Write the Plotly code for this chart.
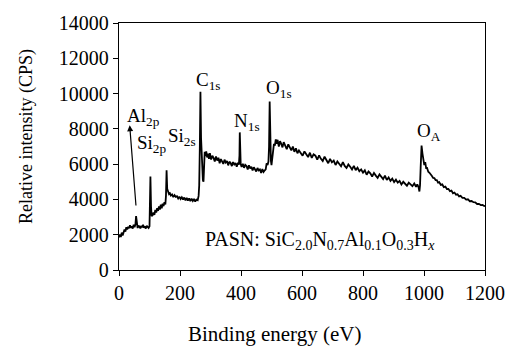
import plotly.graph_objects as go

# ---- Spectrum data: binding energy (eV) / intensity (CPS), by region ----
energy_low = [0, 3, 6, 9, 12, 15, 18, 21, 24, 27, 30, 33, 36, 39, 42, 45, 48, 51, 54, 56, 58, 61, 64,
              67, 70, 73, 76, 79, 82, 85, 88, 91, 94, 97, 100]
counts_low = [1850, 2010, 1870, 2120, 1960, 2230, 2290, 2180, 2420, 2300, 2450, 2360, 2530, 2400, 2480,
              2350, 2560, 2430, 2600, 3050, 2540, 2380, 2520, 2450, 2360, 2510, 2420, 2560, 2400, 2470,
              2350, 2500, 2440, 2380, 2480]

energy_si = [101, 103, 105, 107, 110, 113, 116, 119, 122, 125, 128, 131, 134, 137, 140, 143, 146, 149,
             152, 154, 156, 158, 161, 164, 167, 170, 174, 178, 182, 186, 190, 194, 198, 202, 206, 210,
             214, 218, 222, 226, 230, 234, 238, 242, 246, 250, 254, 258, 261]
counts_si = [3500, 5300, 3600, 3050, 3100, 3250, 3120, 3400, 3260, 3500, 3350, 3600, 3430, 3700, 3500,
             3760, 3620, 3850, 3720, 4200, 5650, 4600, 4450, 4300, 4350, 4220, 4280, 4130, 4240, 4150,
             4180, 4050, 4160, 4020, 4120, 3990, 4110, 3950, 4080, 3940, 4060, 3900, 4050, 3920, 4030,
             3880, 3990, 3960, 4200]

energy_c = [263, 265, 267, 269, 271, 273, 275, 277, 279, 281, 283, 286, 289, 292, 295, 298, 302, 306,
            310, 314, 318, 322, 326, 330, 334, 338, 342, 346, 350, 354, 358, 362, 366, 370, 374, 378,
            382, 386, 390, 393]
counts_c = [4800, 7000, 10100, 7500, 6200, 5800, 5100, 5000, 5800, 6700, 6450, 6720, 6380, 6590, 6300,
            6620, 6260, 6480, 6350, 6150, 6440, 6200, 6360, 6050, 6290, 6180, 6010, 6250, 6090, 6180,
            5930, 6140, 6060, 5890, 6120, 5980, 6060, 5850, 6080, 5970]

energy_n = [395, 396, 397, 399, 402, 406, 410, 414, 418, 422, 426, 430, 434, 438, 442, 446, 450, 454,
            458, 462, 466, 470, 474, 478]
counts_n = [6500, 7800, 6600, 6000, 5840, 6020, 5790, 5960, 5900, 5700, 5930, 5760, 5850, 5640, 5820,
            5720, 5580, 5780, 5650, 5700, 5500, 5720, 5560, 5650]

energy_o = [481, 484, 487, 490, 492, 494, 496, 498, 500, 502, 505, 508, 511, 514, 517, 520, 524, 528,
            532, 536, 540, 545, 550, 555, 560, 565, 570, 575, 580, 585, 590, 596, 602, 608, 614, 620,
            626, 632, 638, 644, 650, 656, 662, 668, 674, 680, 686, 692, 698, 704, 710, 716, 722, 728,
            734, 740, 746, 752, 758, 764, 770, 776, 782, 788, 794, 800, 806, 812, 818, 824, 830, 836,
            842, 848, 854, 860, 866, 872, 878, 884, 890, 896, 902, 908, 914, 920, 926, 932, 938, 944,
            950, 956, 962, 968, 974, 978]
counts_o = [5700, 6050, 5950, 6150, 7000, 9550, 7500, 6200, 5950, 6300, 6900, 7150,
            7050, 7400, 7150, 7380, 7000, 7300, 7150, 6950, 7250, 7050,
            6850, 7120, 6900, 6780, 7000, 6700, 6900, 6620, 6780, 6650,
            6480, 6720, 6520, 6400, 6650, 6350, 6560, 6480, 6250, 6500,
            6300, 6180, 6420, 6220, 6050, 6300, 6100, 6200, 5950, 6150,
            6020, 5880, 6120, 5900, 5780, 5980, 5850, 5700, 5900, 5660,
            5800, 5600, 5700, 5520, 5650, 5400, 5580, 5480, 5300, 5500,
            5350, 5220, 5420, 5250, 5150, 5350, 5100, 5250, 5050, 5180,
            4980, 5120, 4950, 5050, 4850, 5000, 4900, 4780, 4950, 4820,
            4750, 4900, 4720, 4850]

energy_high = [982, 985, 987, 989, 992, 995, 998, 1001, 1004, 1007, 1010, 1014, 1018, 1022, 1026, 1030,
               1034, 1038, 1042, 1046, 1050, 1055, 1060, 1065, 1070, 1075, 1080, 1085, 1090, 1095, 1100,
               1105, 1110, 1115, 1120, 1126, 1132, 1138, 1144, 1150, 1156, 1162, 1168, 1174, 1180, 1186,
               1192, 1197, 1200]
counts_high = [4700, 4450, 4800, 5800, 7050, 6600, 6200,
               5950, 6120, 5780, 5780, 5570, 5510, 5380, 5330, 5220, 5210, 5090, 5090, 4950, 4980,
               4820, 4850, 4700, 4730, 4590, 4600, 4470, 4500, 4350, 4390, 4270, 4290, 4170, 4200,
               4090, 4090, 3990, 4010, 3900, 3910, 3840, 3830, 3740, 3750, 3680, 3690, 3630, 3620]

segments = [(energy_low, counts_low), (energy_si, counts_si), (energy_c, counts_c),
            (energy_n, counts_n), (energy_o, counts_o), (energy_high, counts_high)]
energy, intensity = [], []
for e, c in segments:
    assert len(e) == len(c), (len(e), len(c))
    energy += e
    intensity += c

# ---- Peak labels ----
peak_labels = ["Al<sub>2p</sub>", "Si<sub>2p</sub>", "Si<sub>2s</sub>", "C<sub>1s</sub>",
               "N<sub>1s</sub>", "O<sub>1s</sub>", "O<sub>A</sub>"]
label_x = [19, 51, 153, 247, 372, 474, 971]
label_y = [8650, 7150, 7530, 10700, 8370, 10250, 7810]

x_ticks = [0, 200, 400, 600, 800, 1000, 1200]
y_ticks = [0, 2000, 4000, 6000, 8000, 10000, 12000, 14000]

FONT = "Liberation Serif"

fig = go.Figure()
fig.add_trace(go.Scatter(x=energy, y=intensity, mode="lines",
                         line=dict(color="black", width=1.8), showlegend=False,
                         hoverinfo="skip"))

for t, lx, ly in zip(peak_labels, label_x, label_y):
    fig.add_annotation(x=lx, y=ly, text=t, showarrow=False, xanchor="left", yanchor="middle",
                       font=dict(family=FONT, size=19, color="black"))

# Al2p arrow
fig.add_annotation(x=35, y=8200, ax=56, ay=3570, xref="x", yref="y", axref="x", ayref="y",
                   text="", showarrow=True, arrowhead=2, arrowsize=1, arrowwidth=1.2,
                   arrowcolor="black")

fig.add_annotation(x=276, y=1650,
                   text="PASN: SiC<sub>2.0</sub>N<sub>0.7</sub>Al<sub>0.1</sub>O<sub>0.3</sub>H<sub><i>x</i></sub>",
                   showarrow=False, xanchor="left", yanchor="middle",
                   font=dict(family=FONT, size=20, color="black"))

fig.add_annotation(x=0.424, y=-0.259, xref="paper", yref="paper", text="Binding energy (eV)",
                   showarrow=False, xanchor="center", yanchor="middle",
                   font=dict(family=FONT, size=21, color="black"))
fig.add_annotation(x=-0.253, y=0.54, xref="paper", yref="paper", text="Relative intensity (CPS)",
                   textangle=-90, showarrow=False, xanchor="center", yanchor="middle",
                   font=dict(family=FONT, size=18, color="black"))

axis_common = dict(showgrid=False, zeroline=False, showline=True, linecolor="black", linewidth=1.3,
                   mirror=True, ticks="outside", ticklen=5, tickwidth=1.2, tickcolor="black",
                   tickfont=dict(family=FONT, size=20, color="black"))

fig.update_xaxes(range=[0, 1200], tickvals=x_ticks, ticktext=[str(v) for v in x_ticks], **axis_common)
fig.update_yaxes(range=[0, 14000], tickvals=y_ticks, ticktext=[str(v) for v in y_ticks], **axis_common)

fig.update_layout(width=517, height=350, margin=dict(l=119, r=23, t=19, b=80),
                  plot_bgcolor="white", paper_bgcolor="white",
                  font=dict(family=FONT, color="black"))

fig.write_html("out.html")
